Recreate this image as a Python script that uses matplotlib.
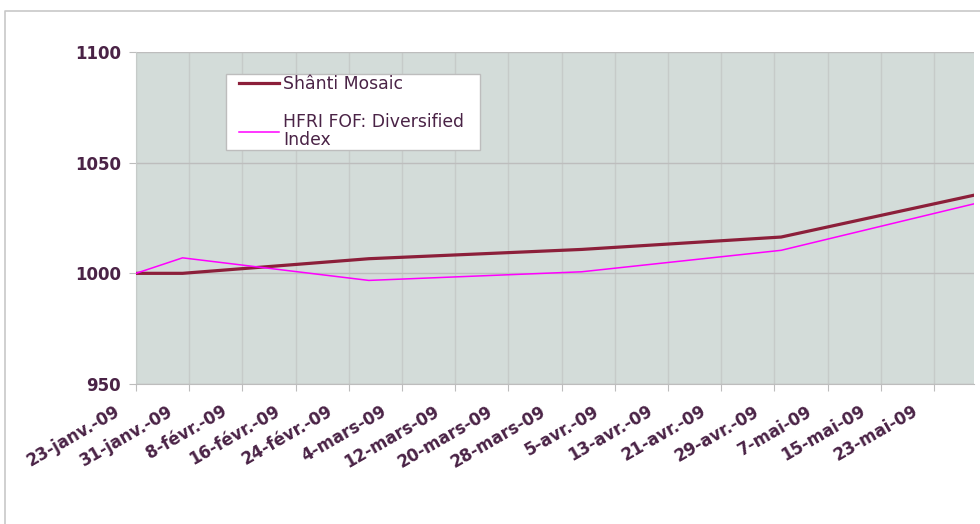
import matplotlib
matplotlib.use("Agg")
import matplotlib.pyplot as plt
import matplotlib.dates as mdates
from matplotlib.lines import Line2D
from matplotlib.patches import Rectangle
import pandas as pd

# month-end values (base 1000 on 23 Jan 2009)
DATES = ["2009-01-23", "2009-01-30", "2009-02-27", "2009-03-31", "2009-04-30", "2009-05-29"]
SHANTI = [1000.0, 1000.0, 1006.6, 1010.8, 1016.4, 1035.3]
HFRI = [1000.0, 1007.0, 996.8, 1000.7, 1010.4, 1031.4]
SERIES_NAMES = ["Shânti Mosaic", "HFRI FOF: Diversified\nIndex"]

TICK_LABELS = ["23-janv.-09", "31-janv.-09", "8-févr.-09", "16-févr.-09", "24-févr.-09",
               "4-mars-09", "12-mars-09", "20-mars-09", "28-mars-09", "5-avr.-09",
               "13-avr.-09", "21-avr.-09", "29-avr.-09", "7-mai-09", "15-mai-09", "23-mai-09"]
Y_TICKS = [950, 1000, 1050, 1100]

TXT = "#4A2346"
W, H = 980, 524

fig = plt.figure(figsize=(W / 100, H / 100), dpi=100)
# outer chart frame: only its left and top edges fall inside the picture
fig.lines.append(Line2D([5 / W, 5 / W, 1.0], [0.0, 1 - 11 / H, 1 - 11 / H],
                       transform=fig.transFigure, color="#C8C8C8", lw=1.2))

ax = fig.add_axes([136 / W, 1 - 384 / H, (974 - 136) / W, (384 - 52) / H])
ax.set_facecolor("#D3DCD9")

d = pd.to_datetime(DATES)
ax.plot(d, SHANTI, color="#8C1F3A", lw=2.3, label=SERIES_NAMES[0], zorder=3)
ax.plot(d, HFRI, color="#FF00FF", lw=1.1, label=SERIES_NAMES[1], zorder=3)

ticks = mdates.date2num(pd.date_range("2009-01-23", periods=len(TICK_LABELS), freq="8D"))
ax.set_xticks(ticks)
ax.set_xticklabels([])
ax.set_xlim(pd.Timestamp("2009-01-23"), pd.Timestamp("2009-05-29"))
# rotated date labels, set down and left of their tick like the original
for t, lab in zip(ticks, TICK_LABELS):
    ax.annotate(lab, xy=(t, 0), xycoords=ax.get_xaxis_transform(),
                xytext=(-17, -26), textcoords="offset pixels", rotation=30,
                ha="right", va="center", rotation_mode="anchor",
                fontsize=12, fontweight="bold", color=TXT, annotation_clip=False)

ax.set_ylim(950, 1100)
ax.set_yticks(Y_TICKS)
ax.set_yticklabels([str(v) for v in Y_TICKS], fontsize=12, fontweight="bold", color=TXT)

ax.grid(True, axis="y", color="#BDBDBD", lw=1.0)
ax.grid(True, axis="x", color="#C6CBC9", lw=1.0)
ax.set_axisbelow(True)
ax.tick_params(axis="x", length=5, color="#BDBDBD", pad=2)
ax.tick_params(axis="y", length=5, color="#BDBDBD", pad=6)
for s in ["top", "right"]:
    ax.spines[s].set_visible(False)
ax.spines["bottom"].set_color("#BDBDBD")
ax.spines["left"].set_color("#C6CBC9")

# legend box drawn separately, entries placed inside it
fig.patches.append(Rectangle((226 / W, 1 - 150 / H), (480 - 226) / W, (150 - 74) / H,
                             transform=fig.transFigure, facecolor="white",
                             edgecolor="#BDBDBD", lw=1.0, zorder=5))
leg = fig.legend(loc="upper left", bbox_to_anchor=(236 / W, 1 - 72 / H), frameon=False,
                 fontsize=12.4, labelcolor=TXT, handlelength=2.3, handletextpad=0.25,
                 labelspacing=1.15, borderpad=0.2, borderaxespad=0)
for t in leg.get_texts():
    t.set_linespacing(1.0)
leg.set_zorder(6)

fig.savefig("out.png", dpi=100)
